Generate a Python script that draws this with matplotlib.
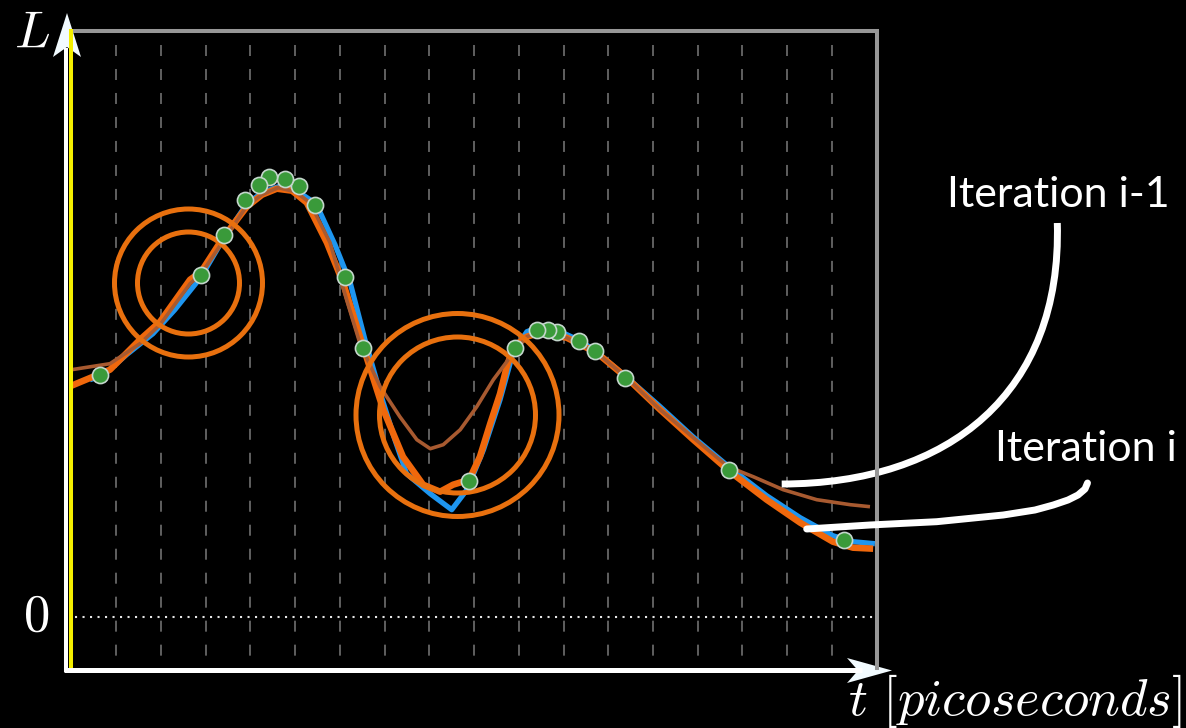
import matplotlib
matplotlib.use("Agg")
import matplotlib.pyplot as plt
from matplotlib.patches import Circle, Polygon, PathPatch
from matplotlib.path import Path

plt.rcParams['mathtext.fontset'] = 'cm'

W, H = 1186, 728

# t in grid units (one dashed line per unit), L in arbitrary units, 0 = dotted line
dot_t = [0.64, 2.90, 3.42, 3.88, 4.19, 4.42, 4.77, 5.09, 5.44, 6.11, 6.51,
         8.89, 9.92, 10.40, 10.65, 10.85, 11.35, 11.70, 12.37, 14.70, 17.26]
dot_L = [2.42, 3.42, 3.82, 4.17, 4.32, 4.40, 4.38, 4.31, 4.12, 3.40, 2.69,
         1.36, 2.69, 2.87, 2.87, 2.85, 2.76, 2.66, 2.39, 1.47, 0.77]

# blue reference curve
true_t = [0.41, 0.70, 1.23, 1.82, 2.31, 2.90, 3.41, 3.92, 4.26, 4.62, 5.00, 5.33,
          5.56, 5.89, 6.23, 6.56, 6.90, 7.23, 7.49, 8.02, 8.50, 8.84, 9.21, 9.58,
          9.87, 10.18, 10.47, 10.83, 11.37, 11.73, 12.40, 13.16, 13.89, 14.72,
          15.54, 16.29, 17.02, 17.47, 17.96]
true_L = [2.37, 2.41, 2.62, 2.83, 3.07, 3.40, 3.79, 4.13, 4.24, 4.30, 4.27, 4.17,
          4.04, 3.72, 3.34, 2.77, 2.24, 1.77, 1.43, 1.23, 1.07, 1.27, 1.67, 2.17,
          2.64, 2.85, 2.90, 2.87, 2.76, 2.65, 2.40, 2.10, 1.80, 1.49,
          1.21, 0.99, 0.81, 0.75, 0.73]

# orange: iteration i
cur_t = [0.00, 0.86, 1.53, 1.98, 2.65, 2.90, 3.39, 3.92, 4.26, 4.59, 4.93, 5.26,
         5.71, 6.07, 6.45, 6.97, 7.41, 7.86, 8.24, 8.53, 8.89, 9.13, 9.36, 9.58,
         9.73, 9.88, 10.18, 10.47, 11.07, 11.74, 12.41, 13.16, 13.90, 14.72,
         15.54, 16.29, 17.02, 17.47, 17.92]
cur_L = [2.31, 2.47, 2.77, 2.95, 3.37, 3.45, 3.79, 4.10, 4.22, 4.28, 4.26, 4.14,
         3.74, 3.34, 2.80, 2.07, 1.60, 1.32, 1.25, 1.32, 1.37, 1.60, 1.93, 2.23,
         2.50, 2.70, 2.80, 2.84, 2.79, 2.64, 2.39, 2.07, 1.77, 1.45,
         1.17, 0.94, 0.75, 0.69, 0.68]

# brown: iteration i-1
prev_t = [0.00, 0.86, 1.53, 1.98, 2.65, 2.90, 3.41, 3.92, 4.26, 4.62, 5.00, 5.33,
          5.78, 6.15, 6.45, 6.90, 7.34, 7.72, 8.02, 8.31, 8.69, 9.06, 9.43, 9.73,
          9.87, 10.18, 10.47, 11.07, 11.74, 12.41, 13.16, 13.90, 14.68, 15.24,
          15.91, 16.66, 17.41, 17.85]
prev_L = [2.47, 2.53, 2.73, 2.92, 3.33, 3.43, 3.77, 4.11, 4.22, 4.29, 4.25, 4.14,
          3.74, 3.17, 2.73, 2.30, 2.00, 1.77, 1.68, 1.72, 1.87, 2.10, 2.37, 2.55,
          2.64, 2.80, 2.85, 2.79, 2.64, 2.39, 2.07, 1.79, 1.50, 1.40,
          1.27, 1.17, 1.12, 1.10]

grid_t = list(range(1, 18))

# zoom rings (pixel centre, inner radius, outer radius)
ring_centres = [(188.5, 283.0), (457.5, 415.0)]
ring_radii = [(51, 74), (78, 101.5)]

fig = plt.figure(figsize=(W / 100, H / 100), dpi=100, facecolor='black')

ax = fig.add_axes([71.5 / W, (H - 670) / H, 805.2 / W, 639.5 / H])
ax.set_xlim(0, 18)
ax.set_ylim(-0.533, 5.862)
ax.axis('off')

ov = fig.add_axes([0, 0, 1, 1])
ov.set_xlim(0, W)
ov.set_ylim(H, 0)
ov.axis('off')
ax.set_zorder(1)
ov.set_zorder(2)

# dashed grid + dotted zero line
ax.vlines(grid_t, 5.72, -0.52, colors='#7a7a7a', linewidth=1.1,
          linestyles=(0, (7.2, 8.5)), zorder=1)
ax.plot([0.08, 18], [0, 0], color='#e6e6e6', lw=1.5, ls=(0, (1, 2.6)), zorder=1)

ax.plot(true_t, true_L, color='#1e96f0', lw=3.8, solid_capstyle='butt',
        solid_joinstyle='round', zorder=2)
ax.plot(cur_t, cur_L, color='#f0680c', lw=4.7, solid_capstyle='butt',
        solid_joinstyle='round', zorder=3)
ax.plot(prev_t, prev_L, color='#a85a30', lw=2.6, solid_capstyle='butt',
        solid_joinstyle='round', zorder=3.5)

for (cx, cy), radii in zip(ring_centres, ring_radii):
    for r in radii:
        ax.add_patch(Circle((cx, cy), r, transform=ov.transData, fill=False,
                            edgecolor='#e8700e', lw=3.6, clip_on=False, zorder=4))

ax.scatter(dot_t[::-1], dot_L[::-1], s=135, facecolor='#3a9a3a',
           edgecolor='#c4d6cc', linewidths=1.2, zorder=5, clip_on=False)

# frame: gray top/right, yellow left, white arrow axes
ov.plot([72, 876.7, 876.7], [30.5, 30.5, 668], color='#979797', lw=2.9,
        solid_joinstyle='miter')
ov.plot([70.5, 70.5], [31, 668], color='#f5f000', lw=2.9)
ov.plot([66, 66], [672, 48], color='white', lw=2.9, solid_capstyle='butt')
ov.plot([64, 862], [670, 670], color='white', lw=3.6, solid_capstyle='butt')
ov.add_patch(Polygon([(67, 13), (53, 57), (67, 47), (81, 57)], closed=True,
                     facecolor='#f2fbff', edgecolor='none'))
ov.add_patch(Polygon([(892, 670.5), (847, 658), (858, 670.5), (847, 683)],
                     closed=True, facecolor='#f2fbff', edgecolor='none'))

ov.text(31.5, 48, r'$L$', color='white', fontsize=38, ha='center', va='baseline')
ov.text(36, 631, r'$0$', color='white', fontsize=38, ha='center', va='baseline')
ov.text(1182, 715, r'$t\ [picoseconds]$', color='white', fontsize=38,
        ha='right', va='baseline')

# callouts
call1 = Path([(781.7, 484), (950, 484), (1062, 392), (1057.3, 223)],
             [Path.MOVETO, Path.CURVE4, Path.CURVE4, Path.CURVE4])
ov.add_patch(PathPatch(call1, fill=False, edgecolor='white', lw=5,
                       capstyle='butt'))
call2_x = [806.7, 870, 936.7, 1003.3, 1035, 1053.3, 1068, 1078, 1085, 1087.5]
call2_y = [529, 525, 521.7, 515, 510, 505, 500, 495, 489, 483]
ov.plot(call2_x, call2_y, color='white', lw=5, solid_capstyle='round',
        solid_joinstyle='round')

ov.text(947, 207, 'Iteration i-1', color='white', fontsize=31, family='Lato',
        ha='left', va='baseline')
ov.text(995, 461, 'Iteration i', color='white', fontsize=31, family='Lato',
        ha='left', va='baseline')

fig.savefig('out.png', dpi=100, facecolor='black')
